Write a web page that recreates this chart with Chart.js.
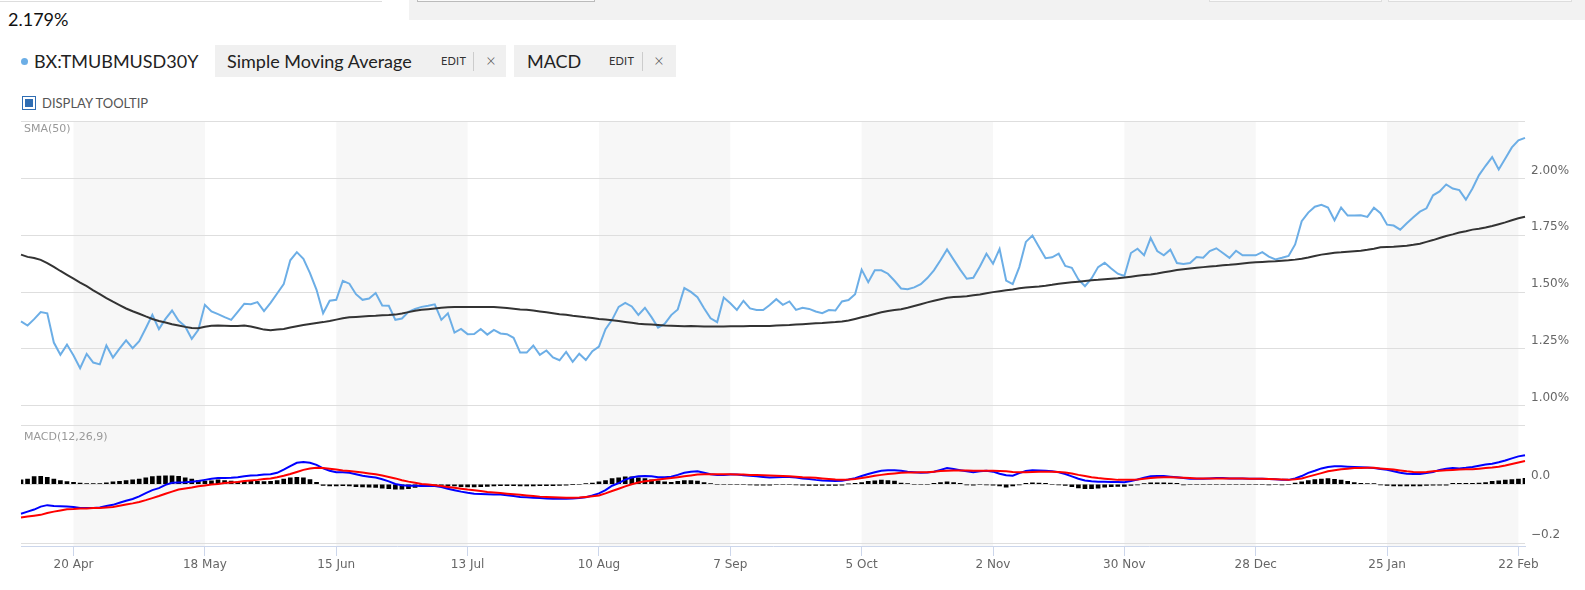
<!DOCTYPE html>
<html>
<head>
<meta charset="utf-8">
<script src="https://cdn.jsdelivr.net/npm/chart.js@4.4.1/dist/chart.umd.min.js"></script>
<style>
  html, body { margin: 0; padding: 0; background: #fff; width: 1585px; height: 590px; overflow: hidden; font-family: Lato, sans-serif; }
  .abs { position: absolute; }
  #topline { left: 0; top: 1px; width: 382px; height: 1px; background: #ddd; }
  #toolbar { left: 409px; top: 0; width: 1176px; height: 20px; background: #f2f2f2; }
  .btn { top: -20px; height: 22px; border: 1px solid #bbb; background: #fafafa; box-sizing: border-box; }
  #last { left: 8px; top: 8px; font-size: 18px; line-height: 22px; color: #111; }
  #dot { left: 21px; top: 58px; width: 7px; height: 7px; border-radius: 50%; background: #6caee6; }
  #sym { left: 34px; top: 49px; font-size: 18px; line-height: 24px; color: #222; }
  .pill { top: 45px; height: 32px; background: #f0f0f0; }
  .pill span { position: absolute; top: 0; line-height: 32px; color: #222; white-space: nowrap; }
  .pill .name { font-size: 18px; }
  .pill .edit { font-size: 11px; letter-spacing: 0.2px; color: #333; }
  .pill .sep { top: 7px; width: 1px; height: 19px; background: #ccc; }
  .pill .x { font-size: 17px; color: #555; font-weight: 300; }
  #cb { left: 22px; top: 96px; width: 14px; height: 14px; border: 1px solid #2f6db3; box-sizing: border-box; }
  #cb::after { content: ''; position: absolute; left: 2px; top: 2px; width: 8px; height: 8px; background: #2f6db3; }
  #tip { left: 42px; top: 95px; font-size: 13px; line-height: 16px; color: #555; }
  .pane { left: 24px; font-family: 'DejaVu Sans', sans-serif; font-size: 11px; line-height: 13px; color: #999; }
  #wrap { left: 0; top: 110px; width: 1585px; height: 480px; }
</style>
</head>
<body>
<div id="topline" class="abs"></div>
<div id="toolbar" class="abs">
  <div class="abs btn" style="left:8px;width:178px"></div>
  <div class="abs btn" style="left:800px;width:173px;border-color:#ddd"></div>
  <div class="abs btn" style="left:979px;width:184px;border-color:#ddd"></div>
</div>
<div id="last" class="abs">2.179%</div>
<div id="dot" class="abs"></div>
<div id="sym" class="abs">BX:TMUBMUSD30Y</div>
<div class="abs pill" style="left:215px;width:291px">
  <span class="name" style="left:12px">Simple Moving Average</span>
  <span class="edit" style="left:226px">EDIT</span>
  <span class="sep" style="left:258px"></span>
  <span class="x" style="left:271px">&times;</span>
</div>
<div class="abs pill" style="left:514px;width:162px">
  <span class="name" style="left:13px">MACD</span>
  <span class="edit" style="left:95px">EDIT</span>
  <span class="sep" style="left:128px"></span>
  <span class="x" style="left:140px">&times;</span>
</div>
<div id="cb" class="abs"></div>
<div id="tip" class="abs">DISPLAY TOOLTIP</div>

<div id="wrap" class="abs"><canvas id="chart"></canvas></div>
<div class="abs pane" style="top:122px">SMA(50)</div>
<div class="abs pane" style="top:430px">MACD(12,26,9)</div>

<script>
// trading days shown (weekdays)
const startDate = '2020-04-08';
const endDate = '2021-02-23';

const tickDates = ['2020-04-20', '2020-05-18', '2020-06-15', '2020-07-13', '2020-08-10', '2020-09-07',
    '2020-10-05', '2020-11-02', '2020-11-30', '2020-12-28', '2021-01-25', '2021-02-22'];
const monthNames = ['Jan', 'Feb', 'Mar', 'Apr', 'May', 'Jun', 'Jul', 'Aug', 'Sep', 'Oct', 'Nov', 'Dec'];
const priceTicks = [1.00, 1.25, 1.50, 1.75, 2.00, 2.25];
const macdTicks = [-0.2, 0, 0.2];

// 30Y yield, %
const price = [
    1.371, 1.353, 1.381, 1.412, 1.407, 1.278, 1.224, 1.269, 1.221, 1.165,
    1.228, 1.190, 1.182, 1.265, 1.212, 1.251, 1.288, 1.253, 1.284, 1.341,
    1.400, 1.337, 1.382, 1.419, 1.374, 1.349, 1.294, 1.334, 1.444, 1.415,
    1.403, 1.390, 1.378, 1.413, 1.449, 1.447, 1.456, 1.416, 1.453, 1.494,
    1.535, 1.640, 1.676, 1.647, 1.584, 1.510, 1.407, 1.462, 1.466, 1.550,
    1.537, 1.491, 1.466, 1.472, 1.496, 1.441, 1.440, 1.378, 1.384, 1.413,
    1.426, 1.435, 1.440, 1.446, 1.378, 1.407, 1.322, 1.338, 1.315, 1.316,
    1.338, 1.313, 1.334, 1.318, 1.315, 1.299, 1.234, 1.234, 1.265, 1.224,
    1.243, 1.213, 1.200, 1.237, 1.193, 1.229, 1.201, 1.240, 1.260, 1.337,
    1.378, 1.435, 1.453, 1.437, 1.400, 1.431, 1.390, 1.344, 1.360, 1.399,
    1.424, 1.518, 1.501, 1.478, 1.429, 1.385, 1.368, 1.476, 1.451, 1.422,
    1.462, 1.428, 1.421, 1.421, 1.443, 1.469, 1.444, 1.459, 1.422, 1.431,
    1.426, 1.415, 1.407, 1.421, 1.419, 1.459, 1.465, 1.491, 1.599, 1.544,
    1.596, 1.596, 1.581, 1.550, 1.516, 1.513, 1.521, 1.535, 1.562, 1.596,
    1.640, 1.688, 1.643, 1.599, 1.559, 1.563, 1.613, 1.669, 1.625, 1.690,
    1.551, 1.535, 1.610, 1.721, 1.749, 1.699, 1.649, 1.653, 1.669, 1.615,
    1.607, 1.556, 1.526, 1.560, 1.610, 1.629, 1.604, 1.581, 1.571, 1.672,
    1.691, 1.662, 1.738, 1.681, 1.662, 1.687, 1.628, 1.624, 1.628, 1.654,
    1.651, 1.681, 1.693, 1.672, 1.651, 1.682, 1.662, 1.662, 1.662, 1.676,
    1.656, 1.644, 1.651, 1.659, 1.710, 1.812, 1.850, 1.876, 1.884, 1.872,
    1.816, 1.872, 1.837, 1.837, 1.838, 1.831, 1.871, 1.847, 1.797, 1.793,
    1.775, 1.803, 1.829, 1.854, 1.869, 1.926, 1.943, 1.974, 1.956, 1.949,
    1.907, 1.956, 2.015, 2.056, 2.094, 2.040, 2.088, 2.137, 2.168, 2.179
];

const sma50 = [
    1.665, 1.655, 1.650, 1.642, 1.628, 1.611, 1.593, 1.576, 1.559, 1.542,
    1.526, 1.508, 1.491, 1.474, 1.458, 1.443, 1.428, 1.416, 1.405, 1.393,
    1.382, 1.373, 1.366, 1.359, 1.353, 1.347, 1.342, 1.341, 1.348, 1.352,
    1.353, 1.352, 1.351, 1.351, 1.353, 1.349, 1.342, 1.335, 1.332, 1.335,
    1.338, 1.344, 1.350, 1.355, 1.360, 1.364, 1.368, 1.373, 1.379, 1.385,
    1.389, 1.391, 1.393, 1.395, 1.396, 1.398, 1.399, 1.401, 1.406, 1.412,
    1.418, 1.422, 1.425, 1.428, 1.431, 1.433, 1.434, 1.435, 1.435, 1.435,
    1.435, 1.435, 1.434, 1.432, 1.430, 1.427, 1.424, 1.422, 1.419, 1.415,
    1.411, 1.407, 1.403, 1.400, 1.396, 1.393, 1.389, 1.386, 1.382, 1.379,
    1.376, 1.373, 1.369, 1.365, 1.361, 1.359, 1.357, 1.355, 1.353, 1.352,
    1.351, 1.350, 1.351, 1.350, 1.349, 1.349, 1.349, 1.349, 1.350, 1.350,
    1.350, 1.351, 1.351, 1.351, 1.351, 1.353, 1.354, 1.355, 1.357, 1.359,
    1.361, 1.363, 1.364, 1.366, 1.368, 1.371, 1.375, 1.382, 1.389, 1.396,
    1.404, 1.411, 1.417, 1.421, 1.425, 1.431, 1.439, 1.447, 1.455, 1.462,
    1.469, 1.475, 1.478, 1.480, 1.482, 1.486, 1.490, 1.495, 1.500, 1.504,
    1.508, 1.512, 1.517, 1.520, 1.523, 1.525, 1.528, 1.532, 1.537, 1.540,
    1.543, 1.546, 1.549, 1.552, 1.554, 1.557, 1.559, 1.561, 1.564, 1.568,
    1.572, 1.575, 1.578, 1.582, 1.587, 1.592, 1.597, 1.601, 1.604, 1.607,
    1.610, 1.613, 1.615, 1.618, 1.620, 1.623, 1.626, 1.629, 1.631, 1.633,
    1.635, 1.636, 1.638, 1.640, 1.643, 1.647, 1.652, 1.659, 1.665, 1.669,
    1.673, 1.675, 1.678, 1.680, 1.682, 1.686, 1.691, 1.697, 1.699, 1.700,
    1.702, 1.704, 1.708, 1.713, 1.721, 1.729, 1.738, 1.747, 1.754, 1.762,
    1.768, 1.775, 1.779, 1.784, 1.791, 1.799, 1.807, 1.816, 1.825, 1.832
];

const macdLine = [
    -0.100, -0.093, -0.086, -0.076, -0.071, -0.074, -0.075, -0.076, -0.077, -0.081,
    -0.081, -0.081, -0.079, -0.074, -0.070, -0.063, -0.056, -0.050, -0.041, -0.030,
    -0.020, -0.013, -0.002, 0.005, 0.006, 0.007, 0.009, 0.011, 0.015, 0.019,
    0.021, 0.021, 0.022, 0.024, 0.027, 0.030, 0.031, 0.033, 0.034, 0.039,
    0.050, 0.062, 0.073, 0.076, 0.073, 0.066, 0.054, 0.046, 0.041, 0.041,
    0.039, 0.034, 0.029, 0.026, 0.023, 0.017, 0.010, 0.001, -0.003, -0.005,
    -0.005, -0.006, -0.006, -0.006, -0.009, -0.015, -0.020, -0.025, -0.029, -0.032,
    -0.033, -0.034, -0.035, -0.035, -0.037, -0.040, -0.043, -0.044, -0.046, -0.047,
    -0.048, -0.049, -0.049, -0.049, -0.048, -0.047, -0.044, -0.038, -0.031, -0.020,
    -0.005, 0.004, 0.016, 0.023, 0.027, 0.028, 0.027, 0.024, 0.024, 0.026,
    0.032, 0.039, 0.043, 0.044, 0.039, 0.034, 0.032, 0.032, 0.033, 0.033,
    0.031, 0.029, 0.027, 0.025, 0.023, 0.024, 0.025, 0.025, 0.023, 0.020,
    0.018, 0.015, 0.013, 0.012, 0.011, 0.012, 0.016, 0.021, 0.028, 0.035,
    0.041, 0.046, 0.048, 0.048, 0.046, 0.043, 0.041, 0.039, 0.040, 0.043,
    0.049, 0.055, 0.052, 0.048, 0.044, 0.041, 0.044, 0.046, 0.043, 0.036,
    0.031, 0.029, 0.038, 0.045, 0.048, 0.047, 0.046, 0.044, 0.041, 0.035,
    0.027, 0.019, 0.013, 0.010, 0.009, 0.009, 0.008, 0.008, 0.007, 0.011,
    0.016, 0.022, 0.027, 0.028, 0.028, 0.026, 0.024, 0.021, 0.019, 0.019,
    0.019, 0.020, 0.021, 0.021, 0.020, 0.020, 0.020, 0.019, 0.019, 0.019,
    0.018, 0.017, 0.015, 0.015, 0.020, 0.028, 0.039, 0.046, 0.054, 0.059,
    0.061, 0.061, 0.060, 0.059, 0.058, 0.057, 0.055, 0.052, 0.049, 0.044,
    0.039, 0.036, 0.035, 0.035, 0.038, 0.042, 0.049, 0.053, 0.055, 0.054,
    0.056, 0.059, 0.063, 0.067, 0.070, 0.075, 0.081, 0.088, 0.095, 0.099
];

const signalLine = [
    -0.113, -0.110, -0.107, -0.104, -0.098, -0.093, -0.089, -0.085, -0.084, -0.082,
    -0.082, -0.081, -0.081, -0.079, -0.077, -0.073, -0.069, -0.065, -0.060, -0.054,
    -0.047, -0.040, -0.032, -0.025, -0.018, -0.014, -0.011, -0.007, -0.004, -0.001,
    0.001, 0.004, 0.006, 0.008, 0.011, 0.013, 0.015, 0.018, 0.020, 0.024,
    0.029, 0.035, 0.042, 0.049, 0.054, 0.056, 0.055, 0.053, 0.050, 0.047,
    0.045, 0.043, 0.040, 0.037, 0.034, 0.030, 0.025, 0.020, 0.014, 0.009,
    0.005, 0.001, -0.001, -0.003, -0.006, -0.009, -0.012, -0.015, -0.018, -0.020,
    -0.023, -0.026, -0.028, -0.030, -0.032, -0.034, -0.036, -0.038, -0.040, -0.042,
    -0.043, -0.044, -0.045, -0.046, -0.046, -0.045, -0.043, -0.041, -0.038, -0.031,
    -0.023, -0.015, -0.007, 0.000, 0.006, 0.010, 0.013, 0.016, 0.019, 0.021,
    0.024, 0.027, 0.030, 0.033, 0.034, 0.034, 0.034, 0.034, 0.034, 0.033,
    0.033, 0.032, 0.032, 0.031, 0.030, 0.029, 0.028, 0.027, 0.026, 0.024,
    0.023, 0.022, 0.020, 0.018, 0.016, 0.015, 0.016, 0.018, 0.021, 0.025,
    0.029, 0.032, 0.035, 0.037, 0.039, 0.040, 0.040, 0.041, 0.041, 0.043,
    0.045, 0.046, 0.047, 0.047, 0.047, 0.046, 0.046, 0.046, 0.046, 0.045,
    0.044, 0.042, 0.041, 0.041, 0.042, 0.043, 0.043, 0.043, 0.042, 0.040,
    0.037, 0.032, 0.028, 0.024, 0.021, 0.019, 0.017, 0.015, 0.015, 0.015,
    0.016, 0.019, 0.021, 0.023, 0.024, 0.024, 0.023, 0.022, 0.021, 0.020,
    0.020, 0.020, 0.020, 0.020, 0.020, 0.020, 0.020, 0.019, 0.019, 0.019,
    0.018, 0.017, 0.016, 0.015, 0.017, 0.020, 0.026, 0.032, 0.038, 0.044,
    0.048, 0.051, 0.053, 0.055, 0.055, 0.056, 0.056, 0.054, 0.052, 0.050,
    0.047, 0.044, 0.042, 0.041, 0.042, 0.044, 0.046, 0.048, 0.049, 0.050,
    0.051, 0.051, 0.053, 0.055, 0.057, 0.060, 0.064, 0.069, 0.074, 0.079
];

const histogram = [
    0.015, 0.018, 0.026, 0.027, 0.024, 0.018, 0.013, 0.009, 0.007, 0.004,
    0.002, 0.002, 0.002, 0.005, 0.008, 0.010, 0.013, 0.015, 0.018, 0.022,
    0.026, 0.028, 0.029, 0.029, 0.027, 0.022, 0.018, 0.013, 0.011, 0.012,
    0.015, 0.013, 0.011, 0.008, 0.010, 0.011, 0.010, 0.009, 0.010, 0.013,
    0.018, 0.022, 0.024, 0.022, 0.016, 0.007, -0.004, -0.006, -0.006, -0.005,
    -0.006, -0.008, -0.009, -0.010, -0.011, -0.013, -0.015, -0.017, -0.017, -0.015,
    -0.011, -0.007, -0.005, -0.004, -0.004, -0.005, -0.006, -0.008, -0.009, -0.009,
    -0.008, -0.007, -0.006, -0.005, -0.005, -0.005, -0.006, -0.006, -0.006, -0.005,
    -0.005, -0.005, -0.004, -0.003, -0.001, 0.000, 0.002, 0.004, 0.008, 0.013,
    0.019, 0.022, 0.025, 0.025, 0.022, 0.019, 0.015, 0.012, 0.008, 0.007,
    0.010, 0.013, 0.013, 0.011, 0.006, 0.002, 0.000, 0.000, 0.000, 0.000,
    0.000, -0.002, -0.003, -0.003, -0.003, 0.000, 0.000, 0.000, -0.002, -0.003,
    -0.004, -0.004, -0.004, -0.004, -0.004, -0.003, 0.001, 0.003, 0.006, 0.010,
    0.012, 0.014, 0.013, 0.011, 0.004, 0.002, 0.000, 0.000, 0.000, 0.003,
    0.006, 0.008, 0.006, 0.003, -0.002, -0.003, 0.000, -0.002, -0.003, -0.006,
    -0.010, -0.006, -0.002, 0.003, 0.005, 0.004, 0.003, 0.000, -0.002, -0.004,
    -0.008, -0.012, -0.015, -0.015, -0.013, -0.010, -0.008, -0.007, -0.007, -0.004,
    -0.002, 0.002, 0.005, 0.005, 0.005, 0.004, 0.003, -0.002, 0.000, 0.000,
    0.000, 0.000, 0.000, 0.000, 0.000, 0.000, 0.000, 0.000, 0.000, 0.000,
    -0.002, 0.000, -0.002, 0.000, 0.004, 0.008, 0.013, 0.016, 0.018, 0.019,
    0.017, 0.014, 0.010, 0.006, 0.003, 0.002, 0.002, -0.002, -0.004, -0.006,
    -0.006, -0.006, -0.006, -0.006, -0.004, -0.003, -0.003, -0.003, 0.003, 0.003,
    0.003, 0.003, 0.004, 0.006, 0.010, 0.012, 0.014, 0.016, 0.018, 0.020
];

const days = [];
for (let d = new Date(startDate + 'T12:00:00Z'); d <= new Date(endDate + 'T12:00:00Z'); d.setUTCDate(d.getUTCDate() + 1)) {
    const wd = d.getUTCDay();
    if (wd !== 0 && wd !== 6) days.push(d.toISOString().slice(0, 10));
}

function dayLabel(iso) {
    const parts = iso.split('-');
    return parseInt(parts[2], 10) + ' ' + monthNames[parseInt(parts[1], 10) - 1];
}

const tickFont = { family: 'DejaVu Sans', size: 12 };
const gridColor = '#dedede';

// alternating shaded bands between the date ticks
const bandsPlugin = {
    id: 'bands',
    beforeDraw(chart) {
        const { ctx, chartArea, scales } = chart;
        const x = scales.x;
        ctx.save();
        ctx.fillStyle = '#f7f7f7';
        for (let i = 0; i + 1 < tickDates.length; i += 2) {
            const x0 = x.getPixelForValue(days.indexOf(tickDates[i]));
            const x1 = x.getPixelForValue(days.indexOf(tickDates[i + 1]));
            ctx.fillRect(x0, chartArea.top, x1 - x0, chartArea.bottom - chartArea.top);
        }
        ctx.restore();
    }
};

new Chart(document.getElementById('chart'), {
    type: 'line',
    data: {
        labels: days,
        datasets: [
            { label: 'SMA(50)', data: sma50, yAxisID: 'price', borderColor: '#333333', borderWidth: 2, pointRadius: 0, order: 1 },
            { label: 'BX:TMUBMUSD30Y', data: price, yAxisID: 'price', borderColor: '#6caee6', borderWidth: 2, pointRadius: 0, order: 2 },
            { label: 'Signal', data: signalLine, yAxisID: 'macd', borderColor: '#ff0000', borderWidth: 2, pointRadius: 0, order: 3 },
            { label: 'MACD', data: macdLine, yAxisID: 'macd', borderColor: '#0000ff', borderWidth: 2, pointRadius: 0, order: 4 },
            { type: 'bar', label: 'Histogram', data: histogram, yAxisID: 'macd', backgroundColor: '#000000', barThickness: 4, order: 5 }
        ]
    },
    options: {
        responsive: true,
        maintainAspectRatio: false,
        animation: false,
        events: [],
        layout: { padding: { left: 21, top: 11.7, right: 0, bottom: 0 } },
        plugins: {
            legend: { display: false },
            tooltip: { enabled: false }
        },
        scales: {
            x: {
                type: 'category',
                offset: false,
                grid: { offset: false, drawOnChartArea: false, drawTicks: true, tickLength: 10, color: '#ccd6eb' },
                border: { display: true, color: '#ccd6eb' },
                ticks: {
                    autoSkip: false,
                    maxRotation: 0,
                    padding: 2,
                    color: '#666666',
                    font: tickFont,
                    callback: value => dayLabel(days[value])
                },
                afterBuildTicks: axis => {
                    axis.ticks = tickDates.map(d => ({ value: days.indexOf(d) }));
                },
                afterFit: axis => {
                    axis.height = 44;
                    axis.paddingLeft = 0;
                    axis.paddingRight = 0;
                }
            },
            price: {
                type: 'linear',
                position: 'right',
                stack: 'panes',
                stackWeight: 303.8,
                bounds: 'data',
                min: 0.913,
                max: 2.25,
                grid: { color: gridColor, drawTicks: false },
                border: { display: false },
                ticks: {
                    padding: 6,
                    labelOffset: -8,
                    color: '#666666',
                    font: tickFont,
                    callback: v => (v >= 2.25 ? '' : v.toFixed(2) + '%')
                },
                afterBuildTicks: axis => {
                    axis.ticks = priceTicks.map(v => ({ value: v }));
                },
                afterFit: axis => {
                    axis.width = 60;
                    axis.paddingTop = 0;
                    axis.paddingBottom = 0;
                }
            },
            macd: {
                type: 'linear',
                position: 'right',
                stack: 'panes',
                stackWeight: 120.5,
                bounds: 'data',
                min: -0.21,
                max: 0.2,
                grid: { color: gridColor, drawTicks: false },
                border: { display: false },
                ticks: {
                    padding: 6,
                    labelOffset: -8,
                    color: '#666666',
                    font: tickFont,
                    callback: v => (v >= 0.2 ? '' : (v < 0 ? '\u2212' : '') + Math.abs(v).toFixed(1))
                },
                afterBuildTicks: axis => {
                    axis.ticks = macdTicks.map(v => ({ value: v }));
                },
                afterFit: axis => {
                    axis.width = 60;
                    axis.paddingTop = 0;
                    axis.paddingBottom = 0;
                }
            }
        }
    },
    plugins: [bandsPlugin]
});
</script>
</body>
</html>
